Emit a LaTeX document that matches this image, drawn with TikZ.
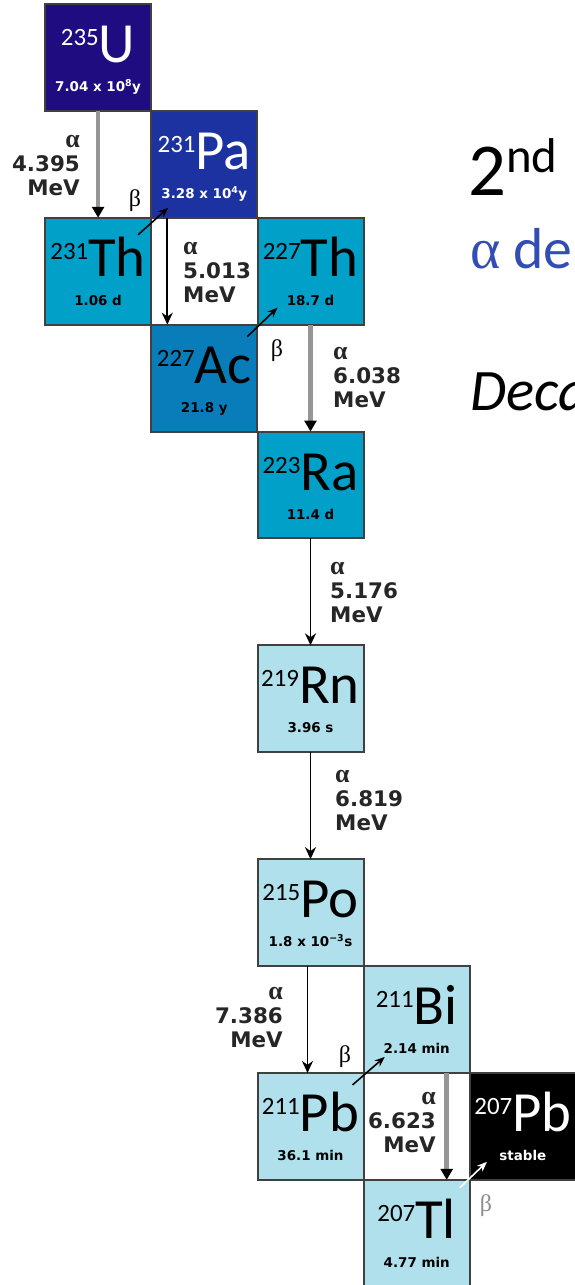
\documentclass[tikz,border=0pt]{standalone}
\usepackage{fontspec}
\setmainfont{Carlito}
\newfontfamily\symfont{Carlito}
\newfontfamily\lblfont{DejaVu Sans}
\newfontfamily\grkfont{Liberation Serif}
\newfontfamily\calfont{Carlito}
\usetikzlibrary{arrows.meta,calc}

\definecolor{clrU}{RGB}{30,12,128}
\definecolor{clrPa}{RGB}{28,50,160}
\definecolor{clrTh}{RGB}{0,160,200}
\definecolor{clrAc}{RGB}{8,125,185}
\definecolor{clrLt}{RGB}{176,224,236}
\definecolor{clrBlue}{RGB}{50,78,180}
\definecolor{clrShaft}{RGB}{150,150,150}

\tikzset{
  nbox/.style={draw=black!75, line width=2bp, minimum width=106bp,
    minimum height=106.9bp, inner sep=0pt, outer sep=0pt},
  symtext/.style={inner sep=0pt, anchor=base,
    font=\symfont\fontsize{57}{57}\selectfont},
  halflife/.style={inner sep=0pt, anchor=base,
    font=\lblfont\bfseries\fontsize{13.5}{14}\selectfont},
  decaylbl/.style={inner sep=0pt, text=black!85,
    font=\lblfont\bfseries\fontsize{21.5}{24}\selectfont},
  alphathin/.style={line width=1.7bp, -{Stealth[length=12bp,width=11bp]}},
  alphathick/.style={draw=clrShaft, line width=4.5bp,
    -{Triangle[length=11bp,width=12bp,color=black]}},
  betaarrow/.style={line width=1.6bp, -{Stealth[length=10bp,width=8bp]}},
  betalbl/.style={inner sep=0pt, font=\grkfont\fontsize{24}{24}\selectfont},
  headline/.style={inner sep=0pt, anchor=base west},
}

% alpha sign used in the decay labels
\newcommand\alphasym{{\grkfont\bfseries\fontsize{26}{24}\selectfont α}}

% #1 name, #2 x, #3 y, #4 fill, #5 text colour, #6 mass number, #7 symbol, #8 half-life
\newcommand\isotope[8]{%
  \node[nbox, fill=#4] (#1) at (#2,#3) {};
  \node[symtext, text=#5] (#1-sym) at (#2,{#3+5})
    {\raisebox{17bp}{\fontsize{25}{25}\selectfont #6}#7};
  \node[halflife, text=#5] (#1-hl) at (#2,{#3+34}) {#8};
}

\begin{document}
\begin{tikzpicture}[x=1bp,y=-1bp]
\useasboundingbox (0,0) rectangle (575,1285);
\clip (0,0) rectangle (575,1285);

% nuclide boxes of the actinium series
\isotope{u235}{98.1}{57.4}{clrU}{white}{235}{U}{7.04 x 10\textsuperscript{8}y}
\isotope{pa231}{204.3}{164.3}{clrPa}{white}{231}{Pa}{3.28 x 10\textsuperscript{4}y}
\isotope{th231}{98.1}{271.2}{clrTh}{black}{231}{Th}{1.06 d}
\isotope{th227}{310.5}{271.2}{clrTh}{black}{227}{Th}{18.7 d}
\isotope{ac227}{204.3}{378.1}{clrAc}{black}{227}{Ac}{21.8 y}
\isotope{ra223}{310.5}{485.0}{clrTh}{black}{223}{Ra}{11.4 d}
\isotope{rn219}{310.5}{698.8}{clrLt}{black}{219}{Rn}{3.96 s}
\isotope{po215}{310.5}{912.6}{clrLt}{black}{215}{Po}{1.8 x 10\textsuperscript{−3}s}
\isotope{bi211}{416.7}{1019.5}{clrLt}{black}{211}{Bi}{2.14 min}
\isotope{pb211}{310.5}{1126.4}{clrLt}{black}{211}{Pb}{36.1 min}
\isotope{pb207}{522.9}{1126.4}{black}{white}{207}{Pb}{stable}
\isotope{tl207}{416.7}{1233.3}{clrLt}{black}{207}{Tl}{4.77 min}

% alpha decays
\draw[alphathick] (u235.south) -- (th231.north);
\draw[alphathin] ([xshift=-37bp]pa231.south) -- ([xshift=-37bp]ac227.north);
\draw[alphathick] (th227.south) -- (ra223.north);
\draw[alphathin] (ra223.south) -- (rn219.north);
\draw[alphathin] (rn219.south) -- (po215.north);
\draw[alphathin] ([xshift=-3bp]po215.south) -- ([xshift=-3bp]pb211.north);
\draw[alphathick] ([xshift=30bp]bi211.south) -- ([xshift=30bp]tl207.north);

\node[decaylbl, anchor=north east, align=right] (a-u235) at (80,135) {\alphasym\\4.395\\MeV};
\node[decaylbl, anchor=north west, align=left] (a-pa231) at (183,242) {\alphasym\\5.013\\MeV};
\node[decaylbl, anchor=north west, align=left] (a-th227) at (333,347) {\alphasym\\6.038\\MeV};
\node[decaylbl, anchor=north west, align=left] (a-ra223) at (330,562) {\alphasym\\5.176\\MeV};
\node[decaylbl, anchor=north west, align=left] (a-rn219) at (335,770) {\alphasym\\6.819\\MeV};
\node[decaylbl, anchor=north east, align=right] (a-po215) at (283,987) {\alphasym\\7.386\\MeV};
\node[decaylbl, anchor=north east, align=right] (a-bi211) at (436,1092) {\alphasym\\6.623\\MeV};

% beta decays
\draw[betaarrow] ($(th231.north east)+(-13,17)$) -- ($(pa231.south west)+(17,-10)$);
\draw[betaarrow] ($(ac227.north east)+(-10,12)$) -- ($(th227.south west)+(20,-17)$);
\draw[betaarrow] ($(pb211.north east)+(-11,12)$) -- ($(bi211.south west)+(21,-16)$);
\draw[betaarrow, draw=white] ($(tl207.north east)+(-10,8)$) -- ($(pb207.south west)+(17,-18)$);

\node[betalbl] (b-th231) at (135,201) {β};
\node[betalbl] (b-ac227) at (277,351) {β};
\node[betalbl] (b-pb211) at (345,1057) {β};
\node[betalbl, text=black!45] (b-tl207) at (486,1206) {β};

% headings on the right
\node[headline, font=\calfont\fontsize{75}{75}\selectfont] (head-chain) at (468,195)
  {2\raisebox{23bp}{\fontsize{49}{49}\selectfont nd}};
\node[headline, font=\calfont\fontsize{58}{58}\selectfont, text=clrBlue] (head-alpha) at (470,268)
  {{\grkfont α} de};
\node[headline, font=\calfont\itshape\fontsize{59}{59}\selectfont] (head-decay) at (470,410) {Deca};
\end{tikzpicture}
\end{document}
